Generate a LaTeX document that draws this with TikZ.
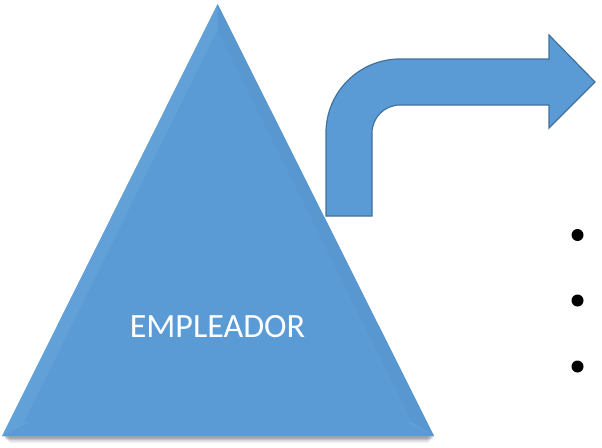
\documentclass[tikz,border=0pt]{standalone}
\usepackage{fontspec}
\setmainfont{Carlito}
\definecolor{officeblue}{HTML}{5B9BD5}
\definecolor{bevelblue}{HTML}{62A1D8}
\definecolor{bevelblue2}{HTML}{5997D0}
\definecolor{arrowline}{HTML}{41719C}
\begin{document}
\begin{tikzpicture}[x=1pt,y=-1pt,
  shapefill/.style={fill=officeblue},
  bulletdot/.style={circle,fill=black,inner sep=0pt,minimum size=12pt}]
\useasboundingbox (0,0) rectangle (602,447);
% shadow under triangle base
\foreach \d/\o in {6/0.06,4.5/0.08,3/0.12,1.5/0.15}{
  \fill[black,opacity=\o] (2+\d,434) -- (434-\d,434) -- (434-\d,437+\d) -- (4+\d,437+\d) -- cycle;
}
% triangle with bevel
\fill[bevelblue] (217.5,4) -- (434,436) -- (2,436) -- cycle;
\fill[bevelblue2] (217.5,4) -- (434,436) -- (217.5,300) -- cycle;
\fill[officeblue] (217.5,30) -- (412,422) -- (24,422) -- cycle;
\fill[officeblue] (30,422) -- (406,422) -- (434,436) -- (2,436) -- cycle;
\node[text=white,font=\fontsize{34}{34}\selectfont] (emp) at (217.5,327) {EMPLEADOR};
% bent arrow
\draw[shapefill,draw=arrowline,line width=1.2pt,line join=miter]
  (326,216) -- (326,133)
  .. controls (326,92.1) and (359.1,59) .. (400,59)
  -- (549,59) -- (549,35) -- (595,82) -- (549,128) -- (549,105)
  -- (400,105)
  .. controls (384.5,105) and (372,117.5) .. (372,133)
  -- (372,216) -- cycle;
% bullets
\node[bulletdot] (b1) at (577.5,235) {};
\node[bulletdot] (b2) at (577.5,300.5) {};
\node[bulletdot] (b3) at (577.5,366.5) {};
\end{tikzpicture}
\end{document}
